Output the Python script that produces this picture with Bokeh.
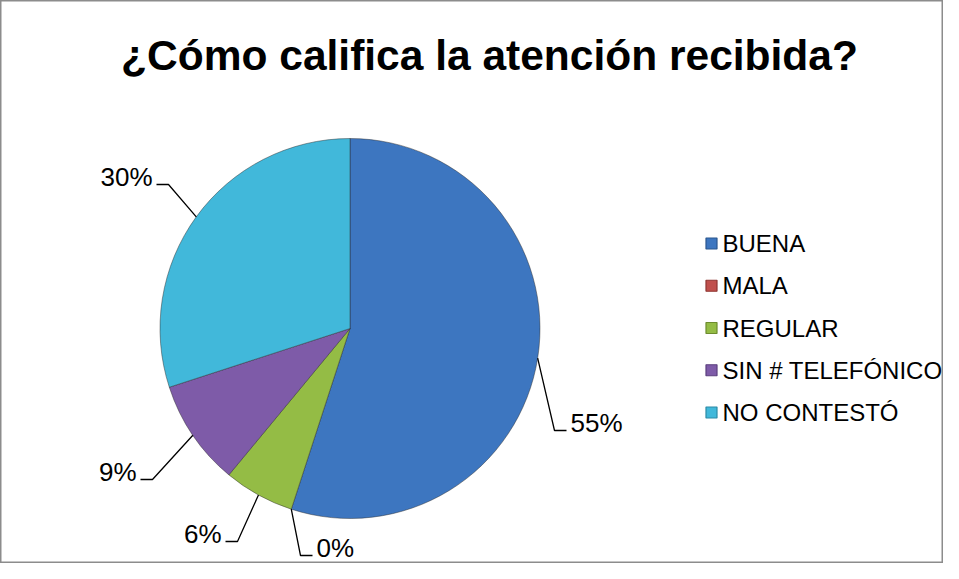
import math
from bokeh.plotting import figure
from bokeh.models import Range1d, ColumnDataSource, Label
from bokeh.core.properties import value
from bokeh.embed import file_html
from bokeh.resources import INLINE

# ---------------- data ----------------
chart_title = "¿Cómo califica la atención recibida?"
categories = ["BUENA", "MALA", "REGULAR", "SIN # TELEFÓNICO", "NO CONTESTÓ"]
percentages = [55, 0, 6, 9, 30]

# ---------------- styles ----------------
colors = ["#3D76C0", "#C0504D", "#94BC45", "#7E5BA8", "#41B8DA"]
edge_colors = ["#2A568E", "#8E3532", "#6D8C2E", "#5B3F7E", "#2C8AA6"]
FONT = "Liberation Sans"

# ---------------- layout (reference pixel coords) ----------------
W, H = 943, 563
def Y(y):
    return H - y

cx, cy, r = 349.5, Y(328), 190
# elbow point of each label's leader line, and side of the label
label_elbows = [(554, 430), (300, 555), (237, 541), (152, 479), (168, 184)]
label_side = ["right", "right", "left", "left", "left"]
label_dy = 8  # text centre sits this far above the leader's horizontal stub
legend_x, legend_y0, legend_step = 711, 243, 42.25

p = figure(width=W, height=H, output_backend="svg", toolbar_location=None,
           x_range=Range1d(0, W), y_range=Range1d(0, H),
           x_axis_type=None, y_axis_type=None, min_border=0,
           background_fill_color="white", border_fill_color="white",
           outline_line_color="#8c8c8c", outline_line_width=2)
p.grid.visible = False

# ---------------- pie ----------------
total = float(sum(percentages))
starts, ends, mids = [], [], []
cum = 0.0
for v in percentages:
    a0 = math.pi / 2 - 2 * math.pi * cum / total
    cum += v
    a1 = math.pi / 2 - 2 * math.pi * cum / total
    starts.append(a0)
    ends.append(a1)
    mids.append((a0 + a1) / 2)

keep = [i for i, v in enumerate(percentages) if v > 0]
wsrc = ColumnDataSource(dict(
    start=[starts[i] for i in keep], end=[ends[i] for i in keep],
    color=[colors[i] for i in keep], cat=[categories[i] for i in keep]))
p.wedge(x=cx, y=cy, radius=r, start_angle="start", end_angle="end",
        direction="clock", fill_color="color", line_color="#2a2a2a",
        line_alpha=0.45, line_width=1, source=wsrc)

# ---------------- data labels with leader lines ----------------
xs, ys = [], []
tx, ty, talign = [], [], []
for i, v in enumerate(percentages):
    sx = cx + r * math.cos(mids[i])
    sy = cy + r * math.sin(mids[i])
    ex, ey_ref = label_elbows[i]
    ey = Y(ey_ref)
    if label_side[i] == "right":
        hx = ex + 12
        tx.append(ex + 16)
        talign.append("left")
    else:
        hx = ex - 12
        tx.append(ex - 16)
        talign.append("right")
    xs.append([sx, ex, hx])
    ys.append([sy, ey, ey])
    ty.append(Y(ey_ref - label_dy))

p.multi_line(xs=xs, ys=ys, line_color="black", line_width=1.3)
lsrc = ColumnDataSource(dict(x=tx, y=ty, text=[f"{v}%" for v in percentages], align=talign))
p.text(x="x", y="y", text="text", text_align="align", text_baseline="middle",
       text_font=value(FONT), text_font_size="26px", text_color="black", source=lsrc)

# ---------------- legend ----------------
ly = [Y(legend_y0 + k * legend_step) for k in range(len(categories))]
gsrc = ColumnDataSource(dict(x=[legend_x] * len(categories), y=ly,
                             tx=[legend_x + 11] * len(categories),
                             color=colors, edge=edge_colors, text=categories))
p.rect(x="x", y="y", width=11, height=11, fill_color="color", line_color="edge",
       line_width=1.2, source=gsrc)
p.text(x="tx", y="y", text="text", text_align="left", text_baseline="middle",
       text_font=value(FONT), text_font_size="24px", text_color="black", source=gsrc)

# ---------------- title ----------------
p.add_layout(Label(x=489, y=Y(55), text=chart_title, text_align="center",
                   text_baseline="middle", text_font=FONT, text_font_style="bold",
                   text_font_size="42.5px", text_color="black"))

open("out.html", "w").write(file_html(p, INLINE))
